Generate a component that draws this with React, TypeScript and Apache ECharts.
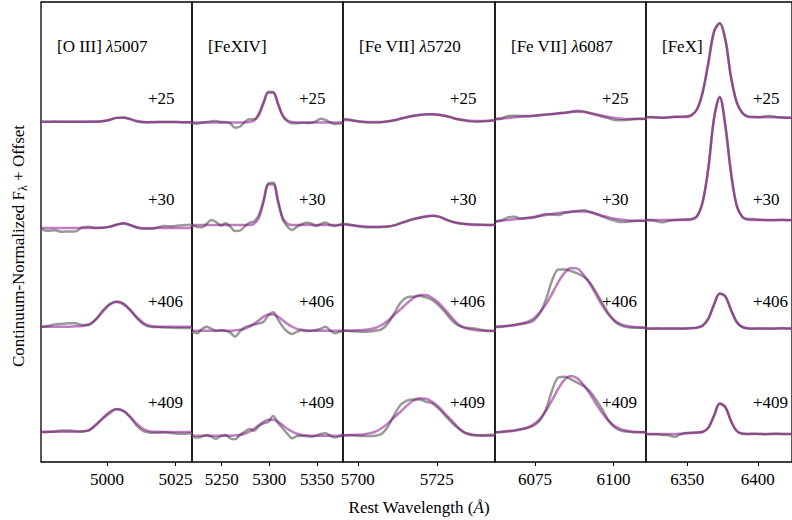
import React, { useEffect, useRef } from "react";
import * as echarts from "echarts";

// ---- Labels ----
const epochLabels = ["+25", "+30", "+406", "+409"];
const epochOffsets = [3, 2, 1, 0];
const panelTitles = [
  "[O III] {i|λ}5007",
  "[FeXIV]",
  "[Fe VII] {i|λ}5720",
  "[Fe VII] {i|λ}6087",
  "[FeX]",
];
const xRanges = [
  [4976, 5031],
  [5218.8, 5377.3],
  [5695.3, 5743.4],
  [6062.3, 6110.3],
  [6320.8, 6424.2],
];
const tickValues = [
  [5000, 5025],
  [5250, 5300, 5350],
  [5700, 5725],
  [6075, 6100],
  [6350, 6400],
];

// ---- Wavelength grids (Å) ----
const wlOIII = [4976, 4978.5, 4981, 4983.5, 4986, 4988.5, 4991, 4993.5, 4996, 4998.5, 5001, 5003.5, 5006, 5008.5, 5011, 5013.5, 5016, 5018.5, 5021, 5023.5, 5026, 5028.5, 5031];
const wlFeXIV = [5219, 5224, 5229, 5234, 5239, 5244, 5249, 5254, 5259, 5264, 5269, 5274, 5279, 5284, 5289, 5294, 5299, 5304, 5309, 5314, 5319, 5324, 5329, 5334, 5339, 5344, 5349, 5354, 5359, 5364, 5369, 5374, 5377];
const wlFe5720 = [5695.5, 5697.5, 5699.5, 5701.5, 5703.5, 5705.5, 5707.5, 5709.5, 5711.5, 5713.5, 5715.5, 5717.5, 5719.5, 5721.5, 5723.5, 5725.5, 5727.5, 5729.5, 5731.5, 5733.5, 5735.5, 5737.5, 5739.5, 5741.5, 5743.5];
const wlFe6087 = [6062.5, 6064.5, 6066.5, 6068.5, 6070.5, 6072.5, 6074.5, 6076.5, 6078.5, 6080.5, 6082.5, 6084.5, 6086.5, 6088.5, 6090.5, 6092.5, 6094.5, 6096.5, 6098.5, 6100.5, 6102.5, 6104.5, 6106.5, 6108.5, 6110.5];
const wlFeX = [6321, 6325, 6329, 6333, 6337, 6341, 6345, 6349, 6353, 6357, 6361, 6365, 6369, 6373, 6377, 6381, 6385, 6389, 6393, 6397, 6401, 6405, 6409, 6413, 6417, 6421, 6425];

// ---- [O III] 5007 ----
const oiiiData25 = [1.013, 1.012, 1.014, 1.013, 1.012, 1.013, 1.013, 1.014, 1.013, 1.02, 1.032, 1.05, 1.052, 1.036, 1.014, 1.007, 1.009, 1.01, 1.011, 1.01, 1.009, 1.008, 1.006];
const oiiiModel25 = [1.012, 1.012, 1.012, 1.013, 1.013, 1.013, 1.013, 1.013, 1.014, 1.018, 1.03, 1.05, 1.053, 1.04, 1.02, 1.01, 1.008, 1.009, 1.01, 1.01, 1.009, 1.008, 1.007];
const oiiiData30 = [0.968, 0.954, 0.96, 0.944, 0.948, 0.948, 0.987, 0.994, 0.981, 0.984, 0.994, 1.013, 1.026, 1.01, 0.984, 0.974, 0.974, 0.987, 1.0, 0.997, 1.004, 1.01, 1.013];
const oiiiModel30 = [0.981, 0.981, 0.981, 0.981, 0.981, 0.981, 0.981, 0.981, 0.982, 0.984, 0.992, 1.012, 1.025, 1.008, 0.988, 0.978, 0.979, 0.98, 0.981, 0.981, 0.981, 0.981, 0.981];
const oiiiData406 = [1.022, 1.029, 1.045, 1.051, 1.055, 1.055, 1.039, 1.042, 1.094, 1.178, 1.242, 1.268, 1.249, 1.184, 1.104, 1.045, 1.022, 1.019, 1.016, 1.013, 1.009, 1.009, 1.013];
const oiiiModel406 = [1.022, 1.022, 1.022, 1.022, 1.022, 1.026, 1.029, 1.045, 1.094, 1.168, 1.236, 1.262, 1.24, 1.184, 1.113, 1.055, 1.029, 1.022, 1.022, 1.022, 1.022, 1.022, 1.022];
const oiiiData409 = [0.997, 1.0, 1.006, 1.016, 1.016, 1.01, 1.006, 1.016, 1.074, 1.13, 1.181, 1.223, 1.207, 1.142, 1.058, 1.006, 0.994, 0.994, 0.997, 0.99, 0.984, 0.984, 0.987];
const oiiiModel409 = [1.003, 1.003, 1.003, 1.003, 1.003, 1.003, 1.006, 1.019, 1.065, 1.136, 1.197, 1.22, 1.204, 1.149, 1.078, 1.026, 1.006, 1.003, 1.0, 1.0, 1.0, 1.0, 1.0];

// ---- [FeXIV] ----
const fexivData25 = [1.003, 0.994, 1.003, 1.01, 1.016, 1.019, 1.01, 1.01, 0.997, 0.955, 0.964, 1.01, 1.036, 1.036, 1.094, 1.207, 1.304, 1.301, 1.184, 1.068, 1.016, 0.997, 0.997, 1.003, 1.0, 1.003, 1.016, 1.042, 1.029, 1.006, 0.99, 0.994, 1.003];
const fexivModel25 = [1.006, 1.006, 1.006, 1.006, 1.006, 1.006, 1.006, 1.006, 1.006, 1.006, 1.006, 1.006, 1.01, 1.024, 1.076, 1.191, 1.294, 1.294, 1.191, 1.076, 1.024, 1.01, 1.006, 1.006, 1.006, 1.006, 1.006, 1.006, 1.006, 1.006, 1.006, 1.006, 1.006];
const fexivData30 = [1.003, 0.994, 0.987, 1.019, 1.058, 1.039, 1.006, 1.026, 0.994, 0.951, 0.955, 0.994, 1.032, 1.045, 1.107, 1.252, 1.414, 1.421, 1.252, 1.065, 0.994, 0.961, 0.994, 1.019, 1.032, 1.026, 1.0, 1.019, 1.035, 1.01, 1.0, 1.013, 1.026];
const fexivModel30 = [1.01, 1.01, 1.01, 1.01, 1.01, 1.01, 1.01, 1.01, 1.01, 1.01, 1.01, 1.01, 1.01, 1.023, 1.08, 1.238, 1.403, 1.403, 1.238, 1.08, 1.023, 1.01, 1.01, 1.01, 1.01, 1.01, 1.01, 1.01, 1.01, 1.01, 1.01, 1.01, 1.01];
const fexivData406 = [0.974, 0.958, 0.997, 1.023, 1.003, 0.984, 0.99, 0.984, 0.965, 0.926, 0.974, 1.016, 1.032, 1.045, 1.055, 1.071, 1.136, 1.162, 1.094, 1.023, 0.974, 0.951, 0.974, 0.987, 0.981, 0.984, 0.99, 1.003, 1.023, 0.984, 0.958, 0.974, 0.984];
const fexivModel406 = [0.984, 0.984, 0.984, 0.984, 0.984, 0.984, 0.984, 0.984, 0.984, 0.987, 0.992, 1.002, 1.022, 1.05, 1.085, 1.12, 1.14, 1.14, 1.12, 1.085, 1.05, 1.022, 1.002, 0.992, 0.987, 0.984, 0.984, 0.984, 0.984, 0.984, 0.984, 0.984, 0.984];
const fexivData409 = [0.961, 0.945, 0.955, 0.971, 0.955, 0.935, 0.961, 0.971, 0.939, 0.929, 0.971, 1.003, 1.029, 1.013, 1.058, 1.084, 1.1, 1.155, 1.091, 1.036, 0.981, 0.939, 0.961, 0.964, 0.961, 0.955, 0.964, 0.981, 0.987, 0.964, 0.948, 0.961, 0.981];
const fexivModel409 = [0.964, 0.964, 0.964, 0.964, 0.964, 0.964, 0.964, 0.964, 0.964, 0.967, 0.972, 0.983, 1.003, 1.031, 1.066, 1.1, 1.12, 1.12, 1.1, 1.066, 1.031, 1.003, 0.983, 0.972, 0.967, 0.964, 0.964, 0.964, 0.964, 0.964, 0.964, 0.964, 0.964];

// ---- [Fe VII] 5720 ----
const fe5720Data25 = [1.039, 1.032, 1.02, 1.01, 1.006, 1.006, 1.008, 1.016, 1.026, 1.042, 1.058, 1.07, 1.078, 1.082, 1.084, 1.08, 1.07, 1.055, 1.036, 1.026, 1.016, 1.013, 1.016, 1.02, 1.026];
const fe5720Model25 = [1.029, 1.026, 1.019, 1.013, 1.01, 1.01, 1.01, 1.016, 1.026, 1.042, 1.055, 1.068, 1.078, 1.084, 1.084, 1.081, 1.071, 1.055, 1.039, 1.029, 1.023, 1.019, 1.019, 1.023, 1.026];
const fe5720Data30 = [1.019, 1.013, 1.0, 0.99, 0.987, 0.987, 0.99, 0.994, 1.006, 1.029, 1.049, 1.068, 1.08, 1.09, 1.1, 1.094, 1.068, 1.045, 1.029, 1.023, 1.019, 1.016, 1.013, 1.01, 1.013];
const fe5720Model30 = [1.016, 1.01, 1.003, 0.997, 0.994, 0.994, 0.994, 0.997, 1.006, 1.026, 1.045, 1.065, 1.081, 1.094, 1.1, 1.091, 1.068, 1.045, 1.029, 1.019, 1.013, 1.01, 1.01, 1.01, 1.013];
const fe5720Data406 = [0.984, 0.981, 0.977, 0.974, 0.977, 0.984, 0.997, 1.055, 1.152, 1.256, 1.307, 1.314, 1.32, 1.307, 1.282, 1.233, 1.168, 1.094, 1.039, 1.016, 1.01, 1.003, 0.99, 0.984, 0.984];
const fe5720Model406 = [0.984, 0.984, 0.987, 0.99, 0.997, 1.01, 1.039, 1.081, 1.136, 1.191, 1.249, 1.298, 1.33, 1.33, 1.304, 1.256, 1.191, 1.12, 1.055, 1.016, 0.997, 0.987, 0.984, 0.981, 0.981];
const fe5720Data409 = [0.964, 0.968, 0.964, 0.961, 0.961, 0.964, 0.981, 1.052, 1.165, 1.262, 1.304, 1.317, 1.317, 1.294, 1.278, 1.23, 1.165, 1.1, 1.042, 0.997, 0.974, 0.968, 0.968, 0.974, 0.977];
const fe5720Model409 = [0.971, 0.971, 0.974, 0.977, 0.987, 1.003, 1.036, 1.084, 1.142, 1.197, 1.256, 1.304, 1.327, 1.324, 1.294, 1.246, 1.181, 1.117, 1.052, 1.003, 0.981, 0.968, 0.964, 0.964, 0.964];

// ---- [Fe VII] 6087 ----
const fe6087Data25 = [1.039, 1.049, 1.068, 1.071, 1.068, 1.068, 1.071, 1.078, 1.084, 1.087, 1.094, 1.1, 1.11, 1.12, 1.113, 1.094, 1.078, 1.061, 1.045, 1.029, 1.026, 1.032, 1.039, 1.042, 1.042];
const fe6087Model25 = [1.036, 1.042, 1.049, 1.055, 1.061, 1.065, 1.068, 1.074, 1.081, 1.087, 1.094, 1.1, 1.107, 1.11, 1.107, 1.097, 1.084, 1.071, 1.058, 1.049, 1.042, 1.039, 1.039, 1.039, 1.039];
const fe6087Data30 = [1.045, 1.058, 1.084, 1.091, 1.074, 1.078, 1.081, 1.1, 1.117, 1.113, 1.107, 1.129, 1.139, 1.146, 1.152, 1.139, 1.117, 1.091, 1.068, 1.052, 1.039, 1.042, 1.049, 1.052, 1.052];
const fe6087Model30 = [1.045, 1.052, 1.058, 1.065, 1.071, 1.078, 1.087, 1.097, 1.107, 1.117, 1.126, 1.133, 1.139, 1.142, 1.142, 1.133, 1.117, 1.1, 1.084, 1.071, 1.061, 1.055, 1.052, 1.052, 1.052];
const fe6087Data406 = [1.019, 1.023, 1.029, 1.039, 1.049, 1.058, 1.081, 1.152, 1.288, 1.476, 1.579, 1.579, 1.563, 1.54, 1.508, 1.45, 1.353, 1.249, 1.146, 1.071, 1.032, 1.016, 1.013, 1.013, 1.013];
const fe6087Model406 = [1.023, 1.026, 1.032, 1.039, 1.052, 1.068, 1.1, 1.159, 1.239, 1.346, 1.46, 1.547, 1.592, 1.586, 1.524, 1.437, 1.33, 1.223, 1.136, 1.078, 1.045, 1.029, 1.019, 1.016, 1.013];
const fe6087Data409 = [0.997, 1.003, 1.01, 1.016, 1.026, 1.039, 1.061, 1.11, 1.22, 1.408, 1.531, 1.537, 1.511, 1.479, 1.447, 1.392, 1.311, 1.214, 1.107, 1.042, 1.013, 1.003, 0.997, 0.997, 0.997];
const fe6087Model409 = [0.997, 1.0, 1.006, 1.013, 1.026, 1.042, 1.074, 1.126, 1.207, 1.311, 1.424, 1.511, 1.544, 1.521, 1.456, 1.369, 1.269, 1.181, 1.107, 1.055, 1.026, 1.01, 1.003, 1.0, 0.997];

// ---- [FeX] ----
const fexData25 = [1.055, 1.058, 1.055, 1.052, 1.055, 1.061, 1.061, 1.065, 1.078, 1.136, 1.3, 1.585, 1.885, 1.97, 1.81, 1.45, 1.205, 1.1, 1.065, 1.058, 1.058, 1.065, 1.068, 1.058, 1.055, 1.052, 1.049];
const fexModel25 = [1.055, 1.055, 1.052, 1.052, 1.055, 1.058, 1.058, 1.058, 1.074, 1.133, 1.304, 1.589, 1.89, 1.966, 1.806, 1.443, 1.201, 1.097, 1.061, 1.058, 1.055, 1.055, 1.055, 1.055, 1.052, 1.052, 1.052];
const fexData30 = [1.058, 1.055, 1.045, 1.036, 1.052, 1.058, 1.061, 1.065, 1.068, 1.1, 1.24, 1.57, 2.05, 2.255, 1.975, 1.52, 1.2, 1.09, 1.068, 1.068, 1.061, 1.058, 1.055, 1.058, 1.061, 1.055, 1.055];
const fexModel30 = [1.058, 1.058, 1.058, 1.058, 1.058, 1.058, 1.058, 1.058, 1.063, 1.094, 1.233, 1.563, 2.042, 2.249, 1.971, 1.515, 1.197, 1.087, 1.061, 1.058, 1.058, 1.058, 1.058, 1.058, 1.058, 1.058, 1.058];
const fexData406 = [1.006, 1.003, 1.006, 1.003, 1.006, 1.006, 1.003, 1.006, 1.01, 1.016, 1.036, 1.104, 1.24, 1.345, 1.315, 1.185, 1.068, 1.019, 1.006, 1.003, 1.006, 1.006, 1.003, 1.006, 1.01, 1.006, 1.006];
const fexModel406 = [1.006, 1.006, 1.006, 1.006, 1.006, 1.006, 1.006, 1.006, 1.007, 1.011, 1.032, 1.1, 1.236, 1.343, 1.317, 1.188, 1.071, 1.021, 1.008, 1.006, 1.006, 1.006, 1.006, 1.006, 1.006, 1.006, 1.006];
const fexData409 = [0.981, 0.978, 0.978, 0.971, 0.968, 0.955, 0.975, 0.99, 0.994, 0.997, 1.003, 1.045, 1.16, 1.278, 1.24, 1.104, 1.01, 0.984, 0.981, 0.984, 0.981, 0.978, 0.981, 0.984, 0.981, 0.981, 0.981];
const fexModel409 = [0.981, 0.981, 0.981, 0.981, 0.981, 0.981, 0.984, 0.987, 0.99, 0.994, 1.0, 1.04, 1.157, 1.274, 1.243, 1.108, 1.012, 0.985, 0.981, 0.981, 0.981, 0.981, 0.981, 0.981, 0.981, 0.981, 0.981];

const panelWl = [wlOIII, wlFeXIV, wlFe5720, wlFe6087, wlFeX];
const panelData = [
  [oiiiData25, oiiiData30, oiiiData406, oiiiData409],
  [fexivData25, fexivData30, fexivData406, fexivData409],
  [fe5720Data25, fe5720Data30, fe5720Data406, fe5720Data409],
  [fe6087Data25, fe6087Data30, fe6087Data406, fe6087Data409],
  [fexData25, fexData30, fexData406, fexData409],
];
const panelModel = [
  [oiiiModel25, oiiiModel30, oiiiModel406, oiiiModel409],
  [fexivModel25, fexivModel30, fexivModel406, fexivModel409],
  [fe5720Model25, fe5720Model30, fe5720Model406, fe5720Model409],
  [fe6087Model25, fe6087Model30, fe6087Model406, fe6087Model409],
  [fexModel25, fexModel30, fexModel406, fexModel409],
];

// layout (pixels)
const panelLefts = [41, 192, 343, 495, 646];
const panelWidths = [151, 151, 152, 151, 151];
const plotTop = 2;
const plotHeight = 460;
const yMin = 0.709;
const yMax = 5.175;
const labelYs = [98, 199, 301, 402];

const SERIF = "'Liberation Serif', 'DejaVu Serif', serif";

export default function App() {
  const ref = useRef<HTMLDivElement>(null);
  useEffect(() => {
    const chart = echarts.init(ref.current as HTMLDivElement, null, { renderer: "svg" });
    const grid: any[] = [];
    const xAxis: any[] = [];
    const yAxis: any[] = [];
    const series: any[] = [];
    const graphic: any[] = [];

    panelWl.forEach((wl, k) => {
      grid.push({
        left: panelLefts[k],
        top: plotTop,
        width: panelWidths[k],
        height: plotHeight,
        show: true,
        borderColor: "#000",
        borderWidth: 1.3,
        backgroundColor: "transparent",
      });
      xAxis.push({
        type: "value",
        gridIndex: k,
        min: xRanges[k][0],
        max: xRanges[k][1],
        axisLine: { show: false },
        splitLine: { show: false },
        axisTick: {
          show: true,
          inside: false,
          length: 4,
          customValues: tickValues[k],
          lineStyle: { color: "#000", width: 1 },
        },
        axisLabel: {
          show: true,
          customValues: tickValues[k],
          margin: 9,
          fontSize: 17,
          fontFamily: SERIF,
          color: "#000",
          formatter: (v: number) => String(v),
        },
      });
      yAxis.push({ type: "value", gridIndex: k, min: yMin, max: yMax, show: false });

      for (let e = 0; e < 4; e++) {
        const d = panelData[k][e];
        const m = panelModel[k][e];
        series.push({
          type: "line",
          xAxisIndex: k,
          yAxisIndex: k,
          data: wl.map((w, i) => [w, d[i] + epochOffsets[e]]),
          symbol: "none",
          smooth: 0.35,
          silent: true,
          lineStyle: { color: "rgba(128,128,128,0.8)", width: 2.5 },
          z: 2,
        });
        series.push({
          type: "line",
          xAxisIndex: k,
          yAxisIndex: k,
          data: wl.map((w, i) => [w, m[i] + epochOffsets[e]]),
          symbol: "none",
          smooth: 0.35,
          silent: true,
          lineStyle: { color: "rgba(128,0,128,0.5)", width: 2.5 },
          z: 3,
        });
        graphic.push({
          type: "text",
          x: panelLefts[k] + 107,
          y: labelYs[e],
          silent: true,
          style: {
            text: epochLabels[e],
            fill: "#000",
            font: `17px ${SERIF}`,
            align: "left",
            verticalAlign: "middle",
          },
        });
      }
      graphic.push({
        type: "text",
        x: panelLefts[k] + 16,
        y: 46,
        silent: true,
        style: {
          text: panelTitles[k],
          fill: "#000",
          fontSize: 17,
          fontFamily: SERIF,
          align: "left",
          verticalAlign: "middle",
          rich: {
            i: { fontStyle: "italic", fontSize: 17, fontFamily: SERIF, fill: "#000" },
          },
        },
      });
    });

    graphic.push({
      type: "text",
      x: 419,
      y: 507,
      silent: true,
      style: {
        text: "Rest Wavelength ({i|Å})",
        fill: "#000",
        fontSize: 17,
        fontFamily: SERIF,
        align: "center",
        verticalAlign: "middle",
        rich: {
          i: { fontStyle: "italic", fontSize: 17, fontFamily: SERIF, fill: "#000" },
        },
      },
    });
    graphic.push({
      type: "text",
      x: 18,
      y: 246,
      rotation: Math.PI / 2,
      silent: true,
      style: {
        text: "{a|Continuum-Normalized F}{s|λ}{a| + Offset}",
        fill: "#000",
        align: "center",
        verticalAlign: "middle",
        rich: {
          a: { fontSize: 17, fontFamily: SERIF, fill: "#000", lineHeight: 22, verticalAlign: "middle" },
          s: { fontSize: 12, fontFamily: SERIF, fill: "#000", lineHeight: 22, verticalAlign: "bottom" },
        },
      },
    });

    chart.setOption({
      animation: false,
      backgroundColor: "#fff",
      grid,
      xAxis,
      yAxis,
      series,
      graphic,
    });
    return () => chart.dispose();
  }, []);

  return (
    <div
      ref={ref}
      style={{ position: "absolute", left: 0, top: 0, width: 792, height: 520 }}
    />
  );
}
